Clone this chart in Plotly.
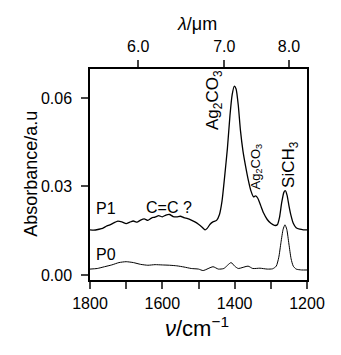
import plotly.graph_objects as go

# wavenumbers (cm-1) and absorbance
nu_p0 = [1800, 1780, 1760, 1740, 1720, 1700, 1680, 1660, 1640, 1620, 1600, 1580, 1560,
         1540, 1520, 1500, 1487, 1460, 1445, 1430, 1410, 1400, 1390, 1363, 1350, 1330,
         1310, 1295, 1285, 1278, 1272, 1266, 1261, 1256, 1250, 1244, 1238, 1230, 1215, 1200]
abs_p0 = [0.0020, 0.0022, 0.0028, 0.0034, 0.0042, 0.0045, 0.0042, 0.0036, 0.0033, 0.0035,
          0.0034, 0.0033, 0.0031, 0.0027, 0.0022, 0.0020, 0.0015, 0.0028, 0.0020, 0.0022,
          0.0042, 0.0030, 0.0022, 0.0030, 0.0022, 0.0023, 0.0020, 0.0021, 0.0030, 0.0060,
          0.0110, 0.0155, 0.0170, 0.0155, 0.0105, 0.0055, 0.0030, 0.0020, 0.0017, 0.0017]

nu_p1 = [1800, 1790, 1775, 1765, 1755, 1745, 1735, 1725, 1712, 1700, 1690, 1680, 1670,
         1660, 1650, 1640, 1630, 1620, 1610, 1600, 1590, 1580, 1570, 1560, 1550, 1540,
         1530, 1520, 1510, 1500, 1490, 1482, 1476, 1468, 1460, 1450, 1442, 1435, 1428,
         1420, 1413, 1407, 1401, 1396, 1390, 1384, 1377, 1370, 1362, 1355, 1348, 1342,
         1336, 1328, 1320, 1310, 1300, 1290, 1282, 1276, 1270, 1264, 1260, 1255, 1250,
         1244, 1238, 1230, 1220, 1210, 1200]
abs_p1 = [0.0153, 0.0152, 0.0155, 0.0158, 0.0165, 0.0170, 0.0176, 0.0182, 0.0180, 0.0174,
          0.0179, 0.0183, 0.0179, 0.0186, 0.0190, 0.0185, 0.0193, 0.0196, 0.0201, 0.0197,
          0.0203, 0.0205, 0.0198, 0.0197, 0.0199, 0.0194, 0.0191, 0.0186, 0.0180, 0.0172,
          0.0162, 0.0153, 0.0158, 0.0172, 0.0180, 0.0185, 0.0205, 0.0250, 0.0330, 0.0430,
          0.0540, 0.0610, 0.0640, 0.0630, 0.0575, 0.0490, 0.0420, 0.0370, 0.0320, 0.0285,
          0.0265, 0.0268, 0.0260, 0.0235, 0.0210, 0.0188, 0.0175, 0.0168, 0.0170, 0.0195,
          0.0245, 0.0280, 0.0286, 0.0270, 0.0235, 0.0200, 0.0175, 0.0160, 0.0155, 0.0153,
          0.0153]

# top axis: wavelength in um
lam_labels = ['6.0', '7.0', '8.0']
lam_vals = [6.0, 7.0, 8.0]

font_family = 'Liberation Sans, Arial, sans-serif'

fig = go.Figure()
fig.add_trace(go.Scatter(x=nu_p0, y=abs_p0, mode='lines', line=dict(color='black', width=1, shape='spline', smoothing=0.6)))
fig.add_trace(go.Scatter(x=nu_p1, y=abs_p1, mode='lines', line=dict(color='black', width=1.3, shape='spline', smoothing=0.5)))
# invisible trace so the top axis is drawn
fig.add_trace(go.Scatter(x=[1800, 1200], y=[0, 0], xaxis='x2', mode='lines',
                         line=dict(width=0), hoverinfo='skip', showlegend=False, opacity=0))

axis_style = dict(ticks='outside', ticklen=7, tickwidth=1.5, showline=True, linewidth=1.5,
                  linecolor='black', showgrid=False, zeroline=False, automargin=False,
                  tickfont=dict(size=16))

# page body has an 8px margin, so the figure is 8px smaller and margins shifted
fig.update_layout(
    width=333, height=347,
    margin=dict(l=82, r=34, t=61, b=75),
    plot_bgcolor='white', paper_bgcolor='white',
    showlegend=False,
    font=dict(family=font_family, size=15, color='black'),
    xaxis=dict(range=[1800, 1200], tickvals=[1800, 1700, 1600, 1500, 1400, 1300, 1200],
               ticktext=['1800', '', '1600', '', '1400', '', '1200'], mirror=True,
               ticklabelstandoff=1, **axis_style),
    xaxis2=dict(range=[1800, 1200], overlaying='x', side='top',
                tickvals=[10000 / v for v in lam_vals], ticktext=lam_labels,
                ticklabelstandoff=2, **axis_style),
    yaxis=dict(range=[-0.0017, 0.0698], tickvals=[0, 0.03, 0.06], ticktext=['0.00', '0.03', '0.06'],
               mirror=True, ticklabelstandoff=6, **axis_style),
)

# axis titles
fig.add_annotation(x=0.493, y=-0.223, xref='paper', yref='paper', showarrow=False,
                   xanchor='center', yanchor='middle',
                   text='<i>ν</i>/cm<sup>−1</sup>', font=dict(size=22, family=font_family, color='black'))
fig.add_annotation(x=0.493, y=1.213, xref='paper', yref='paper', showarrow=False,
                   xanchor='center', yanchor='middle',
                   text='<i>λ</i>/μm', font=dict(size=18, family=font_family, color='black'))
fig.add_annotation(x=-0.27, y=0.505, xref='paper', yref='paper', showarrow=False, textangle=-90,
                   xanchor='center', yanchor='middle',
                   text='Absorbance/a.u', font=dict(size=18, family=font_family, color='black'))

ann = [
    dict(x=1755, y=0.0225, text='P1', size=16, angle=0),
    dict(x=1582, y=0.0227, text='C=C ?', size=16, angle=0),
    dict(x=1755, y=0.0070, text='P0', size=16, angle=0),
    dict(x=1457, y=0.0593, text='Ag<sub>2</sub>CO<sub>3</sub>', size=17, angle=-90),
    dict(x=1341, y=0.0368, text='Ag<sub>2</sub>CO<sub>3</sub>', size=13, angle=-90),
    dict(x=1247, y=0.0373, text='SiCH<sub>3</sub>', size=17, angle=-90),
]
for a in ann:
    fig.add_annotation(x=a['x'], y=a['y'], text=a['text'], showarrow=False, textangle=a['angle'],
                       xanchor='center', yanchor='middle',
                       font=dict(size=a['size'], family=font_family, color='black'))

fig.write_html("out.html")
